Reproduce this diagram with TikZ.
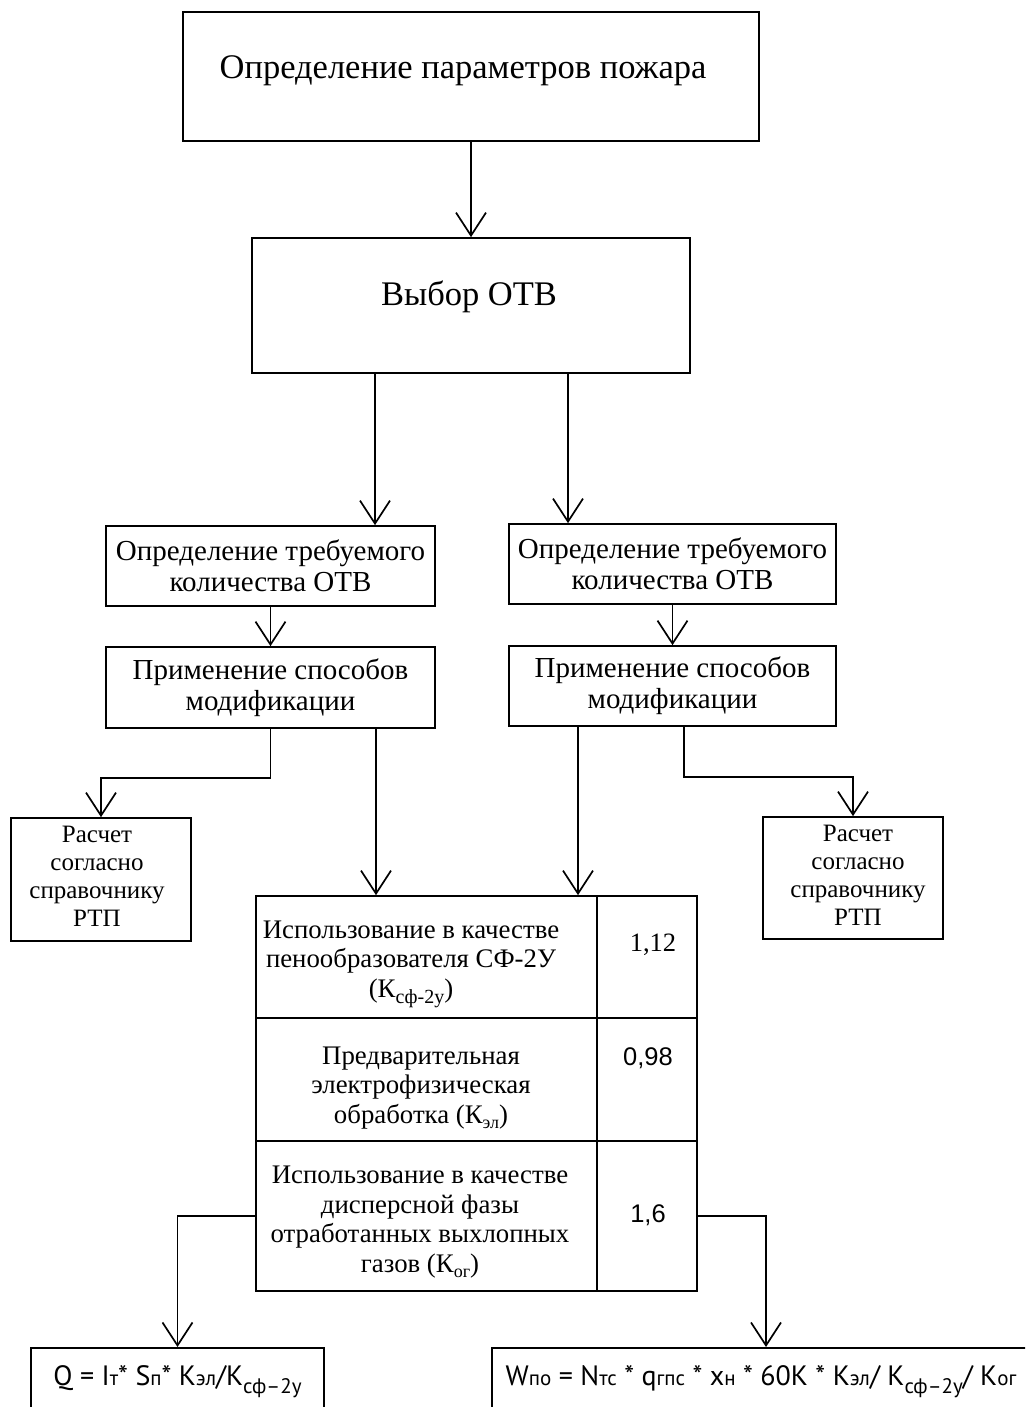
\documentclass[tikz,border=0pt]{standalone}
\usepackage{fontspec}
\setmainfont{Liberation Serif}
\newfontfamily\arialf{Liberation Sans}
\newfontfamily\gostf{PT Sans}
\usetikzlibrary{arrows.meta,calc}
\newcommand{\smb}[1]{{\fontsize{21}{21}\selectfont #1}}
\newcommand{\lowsub}[1]{\raisebox{-6pt}{\fontsize{20}{20}\selectfont #1}}
\newcommand{\flowsub}[1]{\raisebox{-8pt}{\fontsize{21}{21}\selectfont #1}}
\newcommand{\tsub}[1]{\raisebox{-5pt}{\fontsize{18}{18}\selectfont #1}}
\begin{document}
\begin{tikzpicture}[x=1pt,y=-1pt,
  box/.style={draw, line width=1.7pt, inner sep=0pt, align=center},
  txt/.style={inner sep=0pt, align=center},
  conn/.style={line width=1.7pt, -{Straight Barb[length=23pt,width=30pt,line width=1.7pt]}},
  bigfont/.style={font=\fontsize{34.5}{40}\selectfont},
  midfont/.style={font=\fontsize{29}{31}\selectfont},
  smallfont/.style={font=\fontsize{25}{28}\selectfont},
  tabfont/.style={font=\fontsize{26.8}{29.5}\selectfont},
  formfont/.style={font=\gostf\fontsize{28}{30}\selectfont}]
\clip (0,0) rectangle (1025,1407);
\fill[white] (0,0) rectangle (1025,1407);

% main boxes
\node[box, minimum width=576, minimum height=129] (top) at (471,76.5) {};
\node[txt, bigfont] (toptxt) at (463,71) {Определение параметров пожара};
\node[box, minimum width=438, minimum height=135] (vybor) at (471,305.5) {};
\node[txt, bigfont] (vybortxt) at (469,297) {Выбор ОТВ};

\node[box, midfont, minimum width=329, minimum height=80] (L1) at (270.5,566) {Определение требуемого\\количества ОТВ};
\node[box, midfont, minimum width=327, minimum height=80] (R1) at (672.5,564) {Определение требуемого\\количества ОТВ};
\node[box, midfont, minimum width=329, minimum height=81] (L2) at (270.5,687.5) {Применение способов\\модификации};
\node[box, midfont, minimum width=327, minimum height=80] (R2) at (672.5,686) {Применение способов\\модификации};

\node[box, minimum width=180, minimum height=123] (LS) at (101,879.5) {};
\node[txt, smallfont] (LStxt) at (97,876) {Расчет\\согласно\\справочнику\\РТП};
\node[box, minimum width=180, minimum height=122] (RS) at (853,878) {};
\node[txt, smallfont] (RStxt) at (858,875) {Расчет\\согласно\\справочнику\\РТП};

% table
\node[box, minimum width=341, minimum height=122] (c11) at (426.5,957) {};
\node[box, minimum width=100, minimum height=122] (c12) at (647,957) {};
\node[box, minimum width=341, minimum height=123] (c21) at (426.5,1079.5) {};
\node[box, minimum width=100, minimum height=123] (c22) at (647,1079.5) {};
\node[box, minimum width=341, minimum height=150] (c31) at (426.5,1216) {};
\node[box, minimum width=100, minimum height=150] (c32) at (647,1216) {};

\node[txt, tabfont] (t11) at (411,964) {Использование в качестве\\пенообразователя СФ-2У\\(К\lowsub{сф-2у})};
\node[txt, tabfont] (t21) at (421,1088) {Предварительная\\электрофизическая\\обработка (К\tsub{эл})};
\node[txt, tabfont] (t31) at (420,1222) {Использование в качестве\\дисперсной фазы\\отработанных выхлопных\\газов (К\tsub{ог})};
\node[txt, font=\fontsize{26.5}{30}\selectfont] (v1) at (653,945) {1,12};
\node[txt, font=\arialf\fontsize{25.5}{28}\selectfont] (v2) at (648,1058) {0,98};
\node[txt, font=\arialf\fontsize{25.5}{28}\selectfont] (v3) at (648,1215) {1,6};

% formula boxes
\node[box, formfont, anchor=north, minimum width=293, text height=38pt, text depth=60pt] (FL) at (177.5,1347)
  {Q = I\smb{т}* S\smb{п}* K\smb{эл}/K\flowsub{сф–2у}};
\node[box, formfont, anchor=north, minimum width=548, text height=38pt, text depth=60pt] (FR) at (766,1347)
  {W\smb{по} = N\smb{тс} * q\smb{гпс} * x\smb{н} * 60K * K\smb{эл}/ K\flowsub{сф–2у}/ K\smb{ог}\hspace{10pt}};

% connectors
\coordinate (xa) at (375,0);
\coordinate (xb) at (568,0);
\coordinate (xc) at (376,0);
\coordinate (xd) at (578,0);
\coordinate (xe) at (684,0);
\draw[conn] (top.south) -- (vybor.north);
\draw[conn] (vybor.south -| xa) -- (L1.north -| xa);
\draw[conn] (vybor.south -| xb) -- (R1.north -| xb);
\draw[conn] (L1.south) -- (L2.north);
\draw[conn] (R1.south) -- (R2.north);
\draw[conn] (L2.south) -- ++(0,49) -| (LS.north);
\draw[conn] (R2.south -| xe) -- ++(0,50) -| (RS.north);
\draw[conn] (L2.south -| xc) -- (c11.north -| xc);
\draw[conn] (R2.south -| xd) -- (c11.north -| xd);
\draw[conn] (c31.west) -| (FL.north);
\draw[conn] (c32.east) -| (FR.north);
\end{tikzpicture}
\end{document}
